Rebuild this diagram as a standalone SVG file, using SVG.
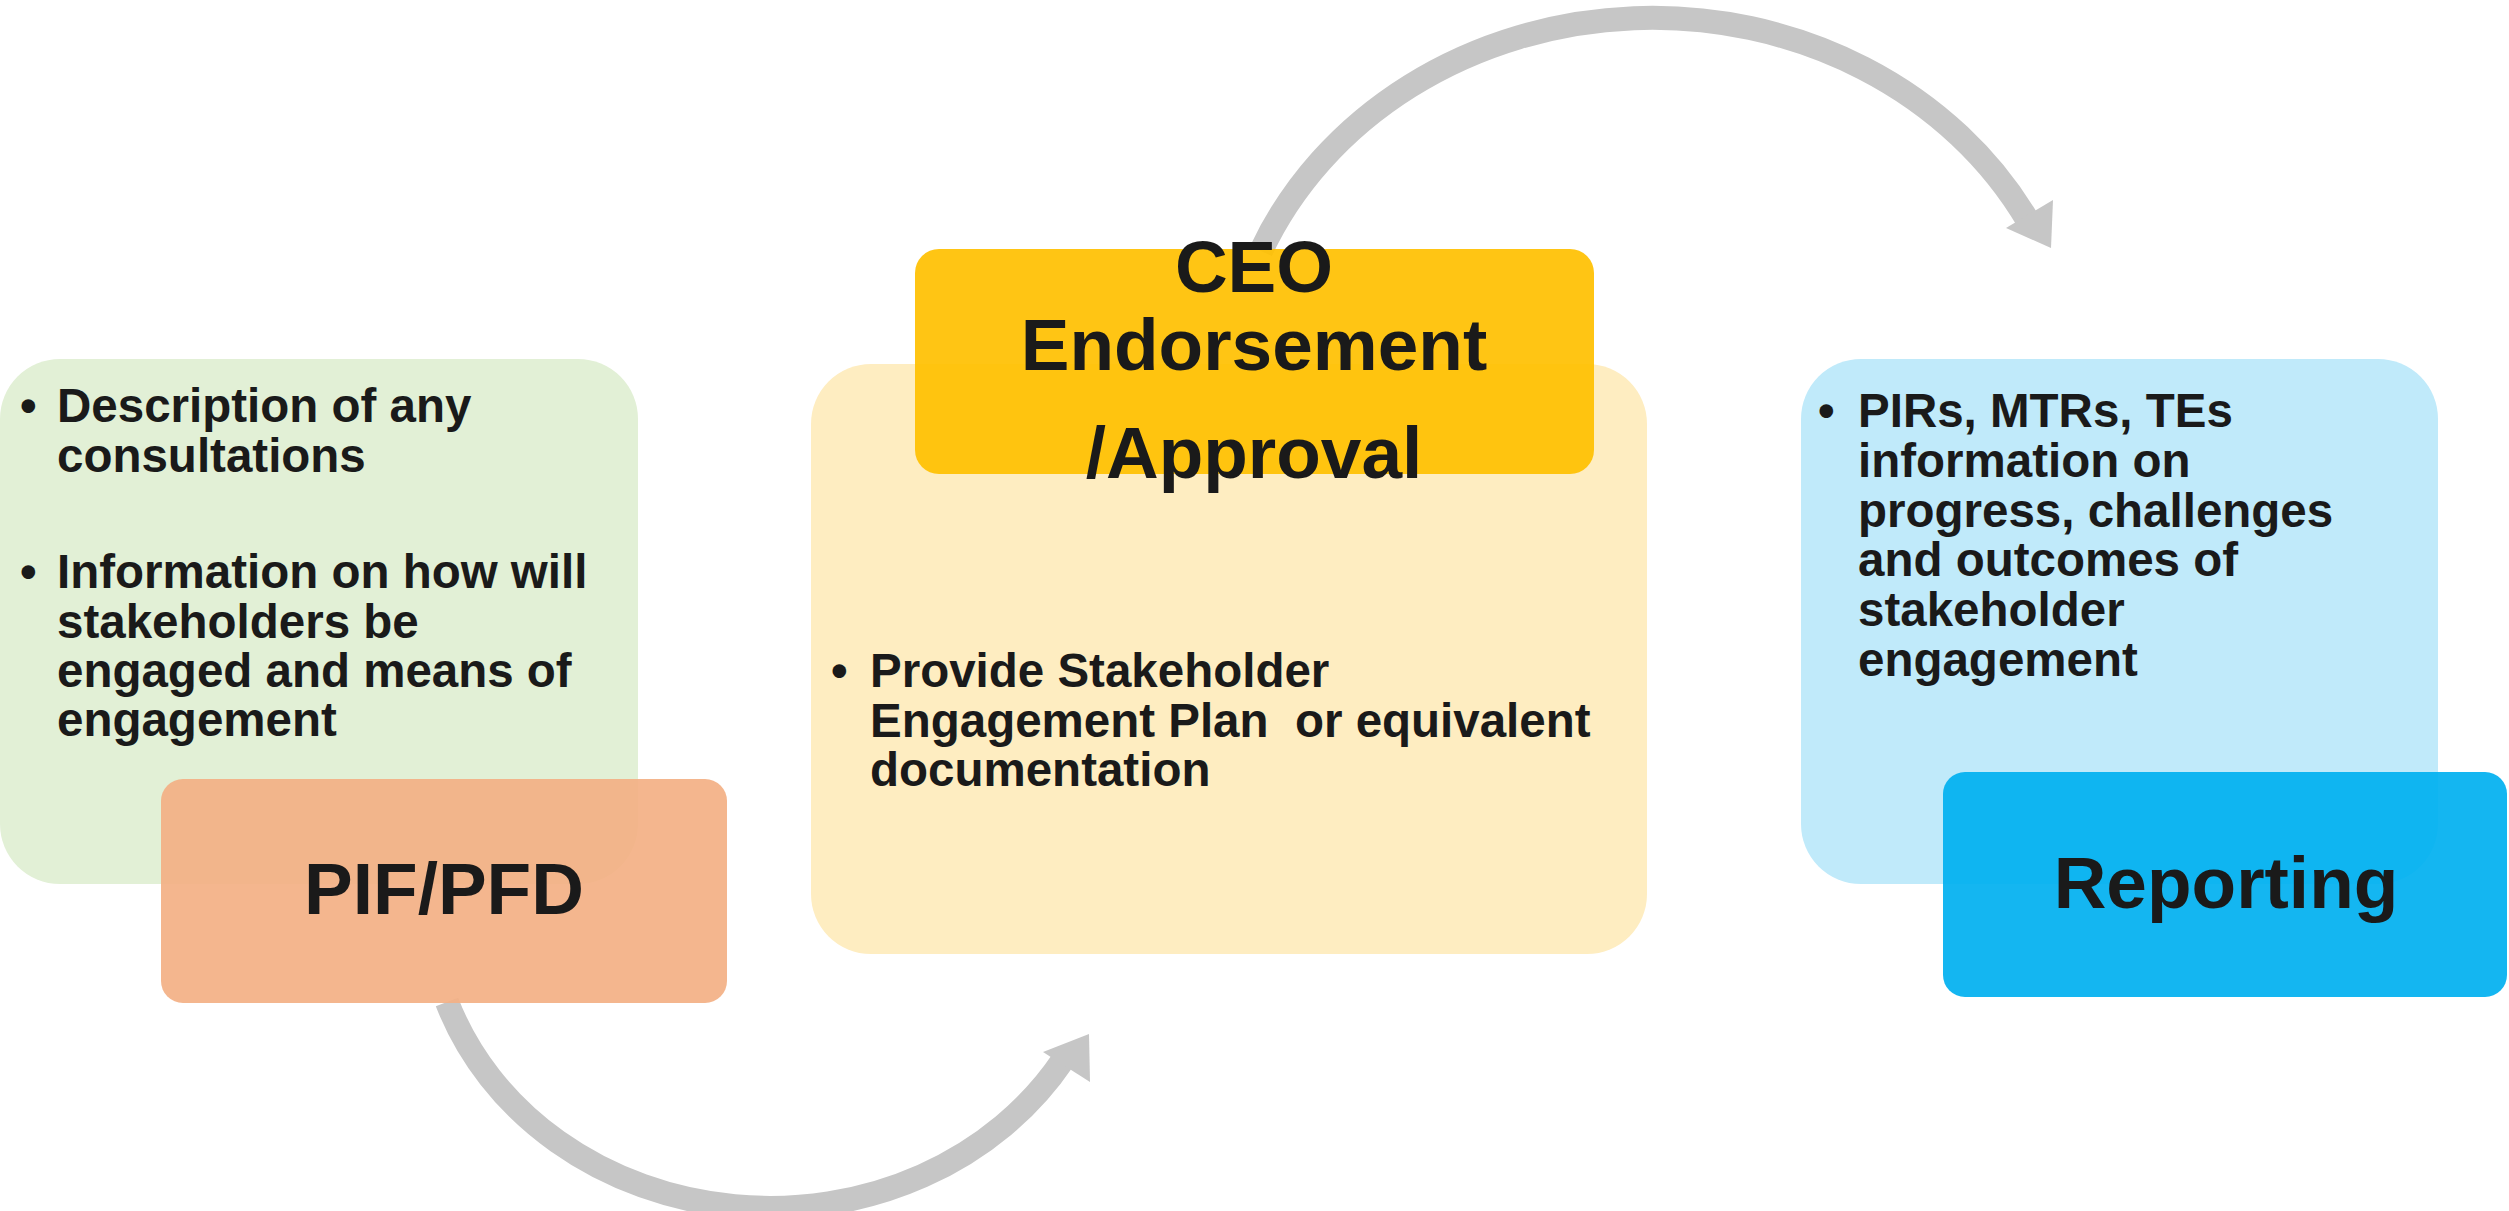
<svg xmlns="http://www.w3.org/2000/svg" width="2509" height="1211" viewBox="0 0 2509 1211">
<defs>
<style>
.t{font-family:"Liberation Sans",Arial,sans-serif;font-weight:bold;fill:#1a1a1a;}
.b{font-size:47.5px;}
.h{font-size:73px;text-anchor:middle;}
.arc{fill:none;stroke:#c6c6c6;stroke-width:24;}
.head{fill:#c6c6c6;}
.dark{opacity:0.92;}
</style>
</defs>
<rect width="2509" height="1211" fill="#ffffff"/>
<g id="connectors">
<path class="arc" d="M 1261 251 A 425 382 0 0 1 2028 221"/>
<polygon class="head" points="2006,228 2053,200 2051,248"/>
<path class="arc" d="M 447 1002 A 342 306 0 0 0 1063 1060"/>
<polygon class="head" points="1043,1052 1089,1034 1090,1082"/>
</g>
<g id="pif-details">
<rect x="0" y="359" width="638" height="525" rx="60" fill="#e2f0d6"/>
<text class="t b" x="20" y="422">•</text>
<text class="t b" x="57" y="422">Description of any</text>
<text class="t b" x="57" y="472">consultations</text>
<text class="t b" x="20" y="588">•</text>
<text class="t b" x="57" y="588">Information on how will</text>
<text class="t b" x="57" y="638">stakeholders be</text>
<text class="t b" x="57" y="687">engaged and means of</text>
<text class="t b" x="57" y="736">engagement</text>
</g>
<g id="pif">
<rect class="dark" x="161" y="779" width="566" height="224" rx="22" fill="#f3b084"/>
<text class="t h" x="444" y="914">PIF/PFD</text>
</g>
<g id="ceo-details">
<rect x="811" y="364" width="836" height="590" rx="60" fill="#feedc1"/>
<text class="t b" x="831" y="687">•</text>
<text class="t b" x="870" y="687">Provide Stakeholder</text>
<text class="t b" x="870" y="737" xml:space="preserve">Engagement Plan  or equivalent</text>
<text class="t b" x="870" y="786">documentation</text>
</g>
<g id="ceo">
<rect class="dark" x="915" y="249" width="679" height="225" rx="24" fill="#ffc000"/>
<text class="t h" x="1254" y="292">CEO</text>
<text class="t h" x="1254" y="370">Endorsement</text>
<text class="t h" x="1254" y="478">/Approval</text>
</g>
<g id="reporting-details">
<rect x="1801" y="359" width="637" height="525" rx="60" fill="#c0eafa"/>
<text class="t b" x="1818" y="427">•</text>
<text class="t b" x="1858" y="427">PIRs, MTRs, TEs</text>
<text class="t b" x="1858" y="477">information on</text>
<text class="t b" x="1858" y="527">progress, challenges</text>
<text class="t b" x="1858" y="576">and outcomes of</text>
<text class="t b" x="1858" y="626">stakeholder</text>
<text class="t b" x="1858" y="676">engagement</text>
</g>
<g id="reporting">
<rect class="dark" x="1943" y="772" width="564" height="225" rx="22" fill="#00b0f0"/>
<text class="t h" x="2226" y="908">Reporting</text>
</g>
</svg>
